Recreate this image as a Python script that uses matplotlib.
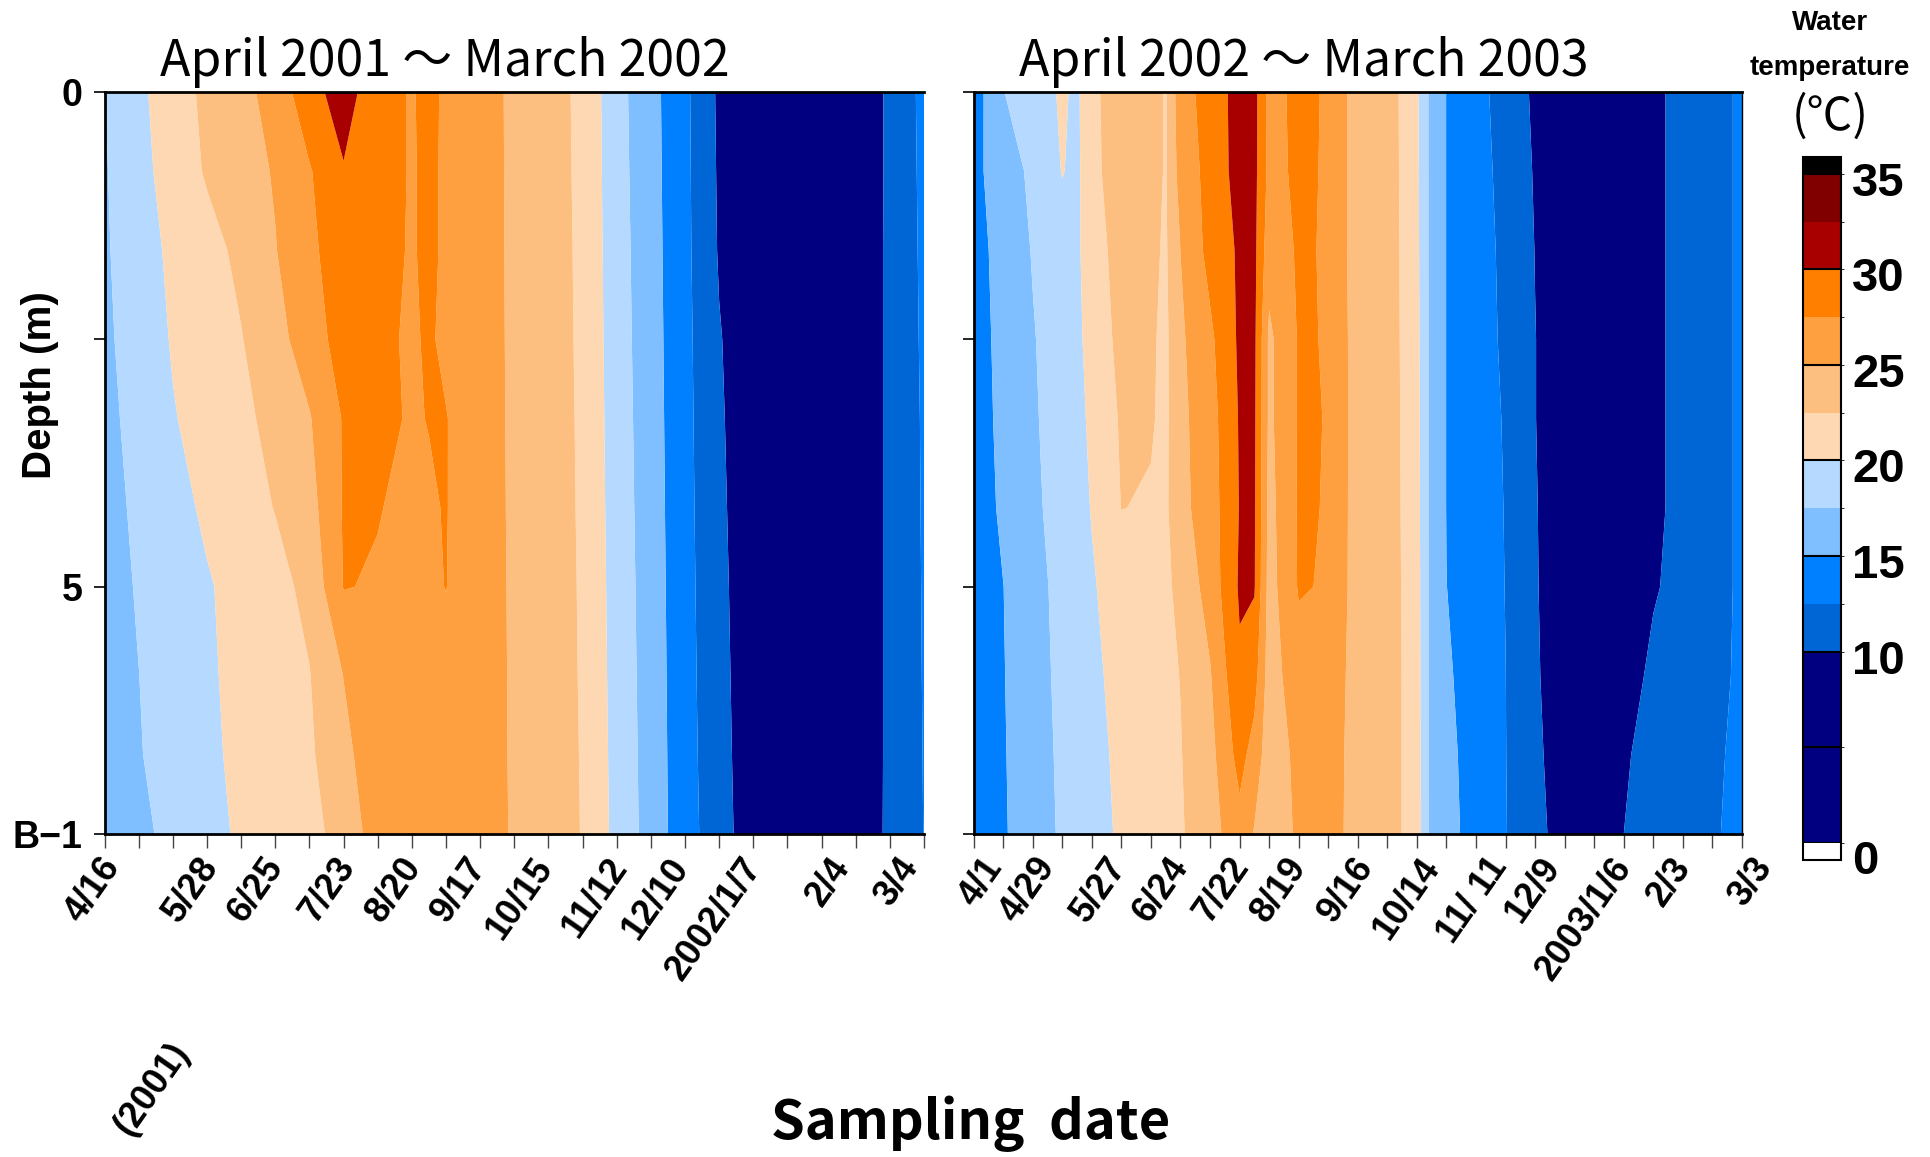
import numpy as np
import matplotlib
matplotlib.use("Agg")
import matplotlib.pyplot as plt
from matplotlib.colors import ListedColormap, BoundaryNorm
from matplotlib.transforms import blended_transform_factory, ScaledTranslation

plt.rcParams['font.family'] = ['Liberation Sans', 'DejaVu Sans']

# ---------------- data ----------------
depths = [0, 0.8, 1.6, 2.5, 3.3, 4.2, 5.0, 5.9, 6.7, 7.5]

# sampling positions (in 2-week tick units from the first tick)
x_2001 = [0, 1, 2, 3, 4, 5, 6, 7, 8, 9, 9.5, 10, 11, 12, 13, 14, 15, 16, 17, 18, 19, 20, 21, 22, 23, 24]
temp_2001 = [
    [17.45, 19.46, 21.41, 23.03, 24.3, 25.9, 29.2, 31.0, 28.6, 27.3, 28.2, 27.03, 25.89, 24.6, 23.43, 22.0, 18.33, 15.83, 13.02, 9.6, 8.5, 7.8, 7.8, 8.8, 10.28, 13.2],
    [17.31, 19.2, 21.07, 22.76, 23.94, 25.21, 27.29, 29.85, 28.6, 27.3, 28.0, 27.1, 25.87, 24.63, 23.46, 22.04, 18.43, 15.9, 13.07, 9.7, 8.5, 7.8, 7.8, 8.8, 10.28, 13.1],
    [17.2, 18.95, 20.48, 21.67, 23.06, 24.9, 26.93, 29.0, 28.3, 27.3, 28.0, 27.1, 25.85, 24.65, 23.49, 22.09, 18.54, 15.97, 13.12, 9.8, 8.5, 7.8, 7.8, 8.8, 10.3, 13.0],
    [17.03, 18.65, 20.19, 21.29, 22.39, 24.17, 26.23, 28.6, 28.0, 27.2, 27.8, 27.0, 25.83, 24.68, 23.52, 22.13, 18.65, 16.05, 13.18, 10.15, 8.5, 7.8, 7.8, 8.8, 10.3, 12.9],
    [16.82, 18.33, 19.85, 20.92, 21.94, 23.23, 24.84, 27.7, 27.9, 27.35, 27.55, 27.6, 25.81, 24.71, 23.55, 22.18, 18.76, 16.12, 13.23, 10.3, 8.5, 7.8, 7.8, 8.8, 10.3, 12.8],
    [16.68, 17.94, 19.2, 20.4, 21.48, 22.59, 24.1, 27.7, 27.6, 27.0, 27.3, 27.6, 25.79, 24.74, 23.58, 22.22, 18.87, 16.2, 13.29, 10.45, 8.5, 7.8, 7.8, 8.8, 10.3, 12.75],
    [16.62, 17.68, 18.73, 19.79, 20.77, 21.73, 23.13, 27.6, 27.3, 26.9, 27.1, 27.55, 25.77, 24.77, 23.61, 22.27, 18.98, 16.28, 13.34, 10.6, 8.5, 7.8, 7.8, 8.8, 10.3, 12.7],
    [16.41, 17.48, 18.59, 19.67, 20.63, 21.52, 22.41, 25.05, 26.9, 26.8, 26.8, 26.7, 25.75, 24.8, 23.64, 22.31, 19.09, 16.36, 13.4, 10.75, 8.5, 7.8, 7.8, 8.8, 10.3, 12.65],
    [16.26, 17.36, 18.46, 19.56, 20.49, 21.31, 22.13, 24.33, 26.6, 26.6, 26.6, 26.5, 25.72, 24.82, 23.67, 22.36, 19.2, 16.43, 13.45, 10.9, 8.5, 7.8, 7.8, 8.8, 10.3, 12.6],
    [15.79, 16.96, 18.13, 19.3, 20.32, 21.12, 21.92, 23.2, 26.4, 26.4, 26.4, 26.3, 25.7, 24.85, 23.7, 22.4, 19.3, 16.5, 13.5, 11.1, 8.5, 7.8, 7.8, 8.8, 10.32, 12.55],
]

x_2002 = [0, 1, 2, 3, 3.5, 4, 5, 6, 6.5, 7, 8, 9, 9.5, 10, 11, 12, 13, 14, 15, 15.4, 16, 17, 18, 19, 20, 21, 22, 23, 24, 25, 26]
temp_2002 = [
    [13.75, 17.43, 18.85, 20.3, 19.6, 21.9, 24.0, 23.6, 22.3, 26.5, 28.5, 31.0, 30.8, 26.8, 28.0, 27.3, 23.7, 23.8, 20.4, 17.4, 14.95, 13.31, 11.49, 9.6, 8.5, 7.8, 7.8, 9.3, 11.0, 11.9, 12.77],
    [14.33, 16.31, 17.99, 20.1, 19.5, 21.8, 23.9, 23.4, 22.3, 26.0, 28.3, 31.0, 30.7, 26.8, 27.9, 27.3, 23.7, 23.8, 20.5, 17.4, 14.95, 13.4, 11.8, 9.8, 8.5, 7.8, 7.8, 9.3, 11.0, 11.9, 12.77],
    [14.08, 15.88, 17.64, 19.04, 19.7, 21.0, 23.8, 23.0, 22.2, 25.02, 28.3, 30.35, 30.6, 26.0, 27.8, 27.3, 23.7, 23.8, 20.6, 17.4, 14.95, 13.5, 12.0, 9.95, 8.5, 7.8, 7.8, 9.3, 11.0, 11.9, 12.77],
    [14.0, 15.67, 17.33, 18.85, 19.6, 20.68, 23.3, 22.8, 22.0, 24.6, 27.0, 30.4, 30.5, 24.5, 27.7, 27.4, 23.8, 23.8, 20.7, 17.4, 14.95, 13.6, 12.1, 10.05, 8.5, 7.8, 7.8, 9.3, 11.0, 11.9, 12.77],
    [13.93, 15.55, 17.18, 18.7, 19.46, 20.37, 22.8, 22.7, 22.0, 24.4, 26.5, 30.2, 30.4, 24.5, 27.7, 27.45, 23.8, 23.8, 20.8, 17.4, 14.95, 13.7, 12.3, 10.05, 8.5, 7.8, 7.8, 9.3, 11.0, 11.9, 12.77],
    [13.79, 15.38, 16.97, 18.53, 19.3, 20.1, 22.55, 22.3, 22.1, 24.3, 26.3, 30.1, 30.3, 24.2, 27.75, 27.4, 23.8, 23.8, 20.9, 17.4, 14.95, 13.8, 12.4, 10.15, 8.5, 7.8, 7.8, 9.3, 11.0, 11.9, 12.77],
    [13.3, 14.97, 16.63, 18.26, 19.05, 19.8, 21.0, 22.0, 22.0, 23.2, 26.0, 30.3, 30.2, 24.0, 27.7, 27.3, 23.8, 23.8, 21.0, 17.4, 15.02, 13.9, 12.45, 10.2, 8.5, 7.8, 7.9, 9.7, 11.0, 11.9, 12.77],
    [13.25, 14.89, 16.52, 18.09, 18.82, 19.56, 20.65, 21.6, 22.0, 22.55, 24.8, 29.6, 28.5, 23.8, 26.5, 26.6, 23.9, 23.8, 21.1, 17.4, 15.3, 14.0, 12.52, 10.3, 8.6, 7.9, 8.5, 10.7, 11.3, 12.0, 12.8],
    [13.23, 14.82, 16.42, 17.94, 18.63, 19.3, 20.48, 21.43, 21.9, 22.4, 24.2, 28.4, 26.5, 23.6, 25.6, 26.3, 23.9, 23.7, 21.2, 17.4, 15.5, 14.2, 12.55, 10.4, 9.0, 8.5, 9.7, 10.9, 11.5, 12.2, 12.9],
    [13.18, 14.75, 16.32, 17.83, 18.48, 19.14, 20.33, 21.29, 21.8, 22.25, 24.0, 26.6, 24.8, 23.4, 25.4, 26.2, 23.9, 23.6, 21.3, 17.4, 15.6, 14.3, 12.6, 10.5, 9.3, 9.2, 10.0, 11.0, 11.6, 12.3, 13.0],
]

labels_2001 = ['4/16', '5/28', '6/25', '7/23', '8/20', '9/17', '10/15', '11/12', '12/10', '2002/1/7', '2/4', '3/4']
labelpos_2001 = [0.3, 3.2, 5.1, 7.2, 9.15, 11.05, 13.0, 15.17, 16.97, 19.1, 21.7, 23.7]
labels_2002 = ['4/1', '4/29', '5/27', '6/24', '7/22', '8/19', '9/16', '10/14', '11/ 11', '12/9', '2003/1/6', '2/3', '3/3']
labelpos_2002 = [0.8, 2.6, 5.0, 7.1, 9.15, 11.1, 13.35, 15.6, 17.9, 19.7, 22.1, 24.1, 26.85]

ticks_2001 = list(range(0, 25))
ticks_2002 = list(range(0, 27))

levels = [0, 5, 10, 12.5, 15, 17.5, 20, 22.5, 25, 27.5, 30, 32.5, 35]
cbar_labels = [0, 10, 15, 20, 25, 30, 35]

# ---------------- style ----------------
band_colors = ['#000080', '#000080', '#0066D6', '#0080FF', '#80BFFF', '#B5D9FF',
               '#FDD8B3', '#FDBF80', '#FFA040', '#FF8000', '#A80000', '#800000']
cmap = ListedColormap(band_colors)
cmap.set_under('white')
cmap.set_over('black')
norm = BoundaryNorm(levels, cmap.N)

W, H = 1930, 1157
fig = plt.figure(figsize=(W / 100, H / 100), dpi=100)

def fx(px):
    return px / W

def fy(py):
    return 1 - py / H

ax1 = fig.add_axes([fx(104.6), fy(834), fx(924) - fx(104.6), (834 - 92) / H])
ax2 = fig.add_axes([fx(973.6), fy(834), fx(1742) - fx(973.6), (834 - 92) / H])

panels = [
    (ax1, x_2001, temp_2001, 24, ticks_2001, labels_2001, labelpos_2001),
    (ax2, x_2002, temp_2002, 26, ticks_2002, labels_2002, labelpos_2002),
]

cs = None
for ax, xs, temps, xmax, ticks, labs, lpos in panels:
    X, Y = np.meshgrid(xs, depths)
    cs = ax.contourf(X, Y, np.array(temps), levels=levels, cmap=cmap, norm=norm,
                     extend='both', antialiased=True)
    ax.set_xlim(0, xmax)
    ax.set_ylim(7.5, 0)
    ax.set_xticks(ticks)
    ax.set_xticklabels([])
    ax.set_yticks([0, 2.5, 5, 7.5])
    ax.tick_params(axis='x', direction='out', length=10, width=1, color='#444444')
    ax.tick_params(axis='y', direction='out', length=8, width=1.2, color='black')
    for s in ['left', 'bottom', 'top']:
        ax.spines[s].set_linewidth(2)
        ax.spines[s].set_color('black')
    ax.spines['right'].set_linewidth(1)
    tr = blended_transform_factory(ax.transData, ax.transAxes) + \
        ScaledTranslation(-0.17, -0.17, fig.dpi_scale_trans)
    for lab, p in zip(labs, lpos):
        ax.text(p, 0, lab, transform=tr, rotation=55, rotation_mode='anchor',
                ha='right', va='top', fontsize=26, fontweight='bold')

ax1.spines['right'].set_visible(False)
ax1.set_yticklabels(['0', '', '5', 'B\u22121'], fontsize=27, fontweight='bold')
ax1.tick_params(axis='y', pad=8)
ax2.set_yticklabels([])

# colorbar (axes spans the extensions too)
cax = fig.add_axes([fx(1802.7), fy(859.5), (1840.7 - 1802.7) / W, (859.5 - 157) / H])
cb = fig.colorbar(cs, cax=cax, extend='both', extendrect=True, extendfrac=0.025,
                  spacing='proportional')
cb.set_ticks([])
cb.outline.set_linewidth(1.5)
for v in range(0, 40, 5):
    cax.axhline(v, color='black', lw=1.5)
ctr = blended_transform_factory(cax.transAxes, cax.transData)
for v in cbar_labels:
    off = -0.19 if v == 0 else -0.10
    cax.text(1.3, v, str(v), transform=ctr + ScaledTranslation(0, off, fig.dpi_scale_trans),
             ha='left', va='center', fontsize=34, fontweight='bold', clip_on=False)

# texts
cjk = ['Noto Sans CJK JP', 'DejaVu Sans']
fig.text(fx(160), fy(76), 'April 2001 \uff5e March 2002', fontsize=36, family=cjk,
         ha='left', va='baseline')
fig.text(fx(1019), fy(76), 'April 2002 \uff5e March 2003', fontsize=36, family=cjk,
         ha='left', va='baseline')
fig.text(fx(971), fy(1124), 'Sampling  date', fontsize=39, family=cjk, fontweight='bold',
         ha='center', va='center')
fig.text(fx(40), fy(385), 'Depth (m)', rotation=90, fontsize=29, fontweight='bold',
         ha='center', va='center')
fig.text(fx(1830), fy(23), 'Water', fontsize=20, fontweight='bold', ha='center', va='center')
fig.text(fx(1830), fy(68), 'temperature', fontsize=20, fontweight='bold', ha='center', va='center')
fig.text(fx(1830), fy(117), '(\u2103)', fontsize=33, family=cjk, ha='center', va='center')
fig.text(fx(167), fy(1036), '(2001)', rotation=55, rotation_mode='anchor', ha='right', va='top',
         fontsize=26, fontweight='bold')

fig.savefig('out.png', dpi=100)
